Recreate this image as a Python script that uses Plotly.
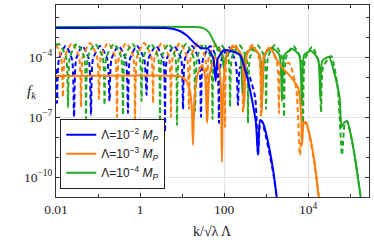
import plotly.graph_objects as go

# ---- data: log10(k/sqrt(lambda)Lambda) and log10(f_k) ----
blue_solid_lk = [-2.0, 0.6, 0.8, 0.95, 1.1, 1.2, 1.32, 1.45, 1.62, 1.75, 1.8, 1.85, 2.0, 2.15, 2.3, 2.38, 2.55, 2.69, 2.76, 2.81, 2.86, 2.93, 3.0, 3.1, 3.18, 3.28]
blue_solid_lf = [-2.55, -2.55, -2.6, -2.7, -2.9, -3.1, -3.35, -3.55, -3.6, -4.1, -5.2, -4.1, -3.65, -3.7, -3.8, -3.9, -5.0, -6.4, -7.3, -8.9, -7.15, -7.3, -7.8, -8.8, -9.8, -11.4]

blue_dash_lk = [-2.0, -1.976, -1.93, -1.77, -1.62, -1.571, -1.52, -1.37, -1.22, -1.167, -1.12, -0.95, -0.78, -0.726, -0.68, -0.51, -0.34, -0.286, -0.24, -0.07, 0.10, 0.155, 0.2, 0.38, 0.55, 0.595, 0.64, 0.81, 0.98, 1.024, 1.07, 1.24, 1.40, 1.452, 1.5, 1.67, 1.83, 1.881, 1.93, 2.11, 2.28, 2.333, 2.39, 2.57, 2.74, 2.81, 2.86, 2.9, 3.0, 3.1, 3.18, 3.28]
blue_dash_lf = [-4.6, -6.3, -4.1, -3.45, -4.1, -7.0, -4.1, -3.45, -4.1, -6.9, -4.1, -3.45, -4.1, -6.2, -4.1, -3.45, -4.1, -6.8, -4.1, -3.45, -4.1, -5.9, -4.1, -3.45, -4.1, -7.75, -4.1, -3.45, -4.1, -6.6, -4.1, -3.45, -4.1, -7.0, -4.1, -3.45, -4.1, -7.3, -4.2, -3.5, -4.3, -6.4, -4.5, -4.8, -6.0, -8.9, -7.3, -7.2, -8.0, -9.0, -9.9, -11.4]

orange_solid_lk = [-2.0, 0.9, 1.0, 1.1, 1.18, 1.23, 1.26, 1.3, 1.38, 1.48, 1.55, 1.6, 1.65, 1.78, 1.88, 1.92, 1.95, 1.99, 2.1, 2.26, 2.42, 2.48, 2.54, 2.67, 2.84, 2.9, 2.96, 3.1, 3.25, 3.37, 3.55, 3.76, 3.83, 3.86, 3.9, 3.95, 4.05, 4.15, 4.28]
orange_solid_lf = [-4.95, -4.95, -5.0, -5.2, -5.6, -6.4, -8.4, -6.0, -4.8, -4.4, -5.0, -7.3, -5.0, -4.0, -4.4, -5.3, -9.25, -5.2, -3.7, -3.5, -3.9, -6.5, -3.9, -3.5, -3.9, -6.8, -3.9, -3.55, -4.1, -4.5, -4.9, -5.5, -6.6, -8.4, -7.3, -7.25, -8.0, -9.2, -11.4]

orange_dash_lk = [-2.0, -1.88, -1.833, -1.79, -1.62, -1.45, -1.405, -1.36, -1.19, -1.02, -0.976, -0.93, -0.76, -0.59, -0.548, -0.50, -0.33, -0.16, -0.119, -0.07, 0.10, 0.27, 0.31, 0.35, 0.52, 0.69, 0.738, 0.78, 0.95, 1.12, 1.167, 1.21, 1.38, 1.55, 1.595, 1.64, 1.81, 1.98, 2.024, 2.07, 2.24, 2.41, 2.452, 2.5, 2.67, 2.84, 2.881, 2.93, 3.1, 3.27, 3.31, 3.36, 3.55, 3.72, 3.81, 3.88, 3.95, 4.05, 4.15, 4.28]
orange_dash_lf = [-3.35, -4.0, -6.0, -4.0, -3.3, -4.0, -6.5, -4.0, -3.3, -4.0, -6.1, -4.0, -3.3, -4.0, -7.0, -4.0, -3.3, -4.0, -7.1, -4.0, -3.3, -4.0, -6.3, -4.0, -3.3, -4.0, -7.0, -4.0, -3.3, -4.0, -6.6, -4.0, -3.3, -4.0, -7.2, -4.0, -3.35, -4.0, -7.5, -4.0, -3.35, -4.0, -6.8, -4.0, -3.4, -4.1, -7.0, -4.1, -3.45, -4.4, -6.8, -4.5, -4.3, -5.6, -8.9, -7.4, -7.3, -8.1, -9.3, -11.4]

green_solid_lk = [-2.0, 1.3, 1.45, 1.55, 1.65, 1.75, 1.85, 1.95, 2.0, 2.05, 2.2, 2.38, 2.44, 2.5, 2.67, 2.85, 2.91, 2.97, 3.14, 3.32, 3.38, 3.44, 3.62, 3.79, 3.85, 3.91, 4.07, 4.24, 4.29, 4.34, 4.5, 4.65, 4.75, 4.8, 4.86, 4.93, 5.03, 5.13, 5.28]
green_solid_lf = [-2.5, -2.5, -2.52, -2.6, -2.8, -3.2, -3.6, -3.85, -4.6, -3.95, -3.65, -3.9, -5.8, -3.9, -3.6, -3.9, -6.0, -3.9, -3.55, -3.9, -6.2, -3.9, -3.6, -3.9, -6.4, -3.9, -3.7, -4.1, -6.0, -4.2, -4.0, -5.0, -6.0, -7.5, -7.3, -7.2, -8.0, -9.2, -11.4]

green_dash_lk = [-2.0, -1.93, -1.76, -1.714, -1.67, -1.5, -1.33, -1.286, -1.24, -1.07, -0.89, -0.845, -0.80, -0.62, -0.45, -0.405, -0.36, -0.18, -0.01, 0.036, 0.08, 0.26, 0.43, 0.476, 0.52, 0.68, 0.84, 0.881, 0.93, 1.1, 1.27, 1.31, 1.36, 1.52, 1.68, 1.726, 1.77, 1.93, 2.1, 2.143, 2.19, 2.36, 2.53, 2.571, 2.62, 2.79, 2.96, 3.0, 3.05, 3.21, 3.38, 3.429, 3.48, 3.65, 3.83, 3.881, 3.93, 4.1, 4.26, 4.31, 4.36, 4.55, 4.7, 4.81, 4.87, 4.93, 5.03, 5.13, 5.28]
green_dash_lf = [-3.4, -3.35, -4.0, -6.5, -4.0, -3.35, -4.0, -7.1, -4.0, -3.35, -4.0, -6.4, -4.0, -3.35, -4.0, -6.9, -4.0, -3.35, -4.0, -6.2, -4.0, -3.35, -4.0, -7.65, -4.0, -3.35, -4.0, -7.4, -4.0, -3.35, -4.0, -6.7, -4.0, -3.35, -4.0, -7.1, -4.0, -3.4, -4.0, -6.5, -4.0, -3.4, -4.0, -7.3, -4.0, -3.4, -4.0, -6.6, -4.0, -3.4, -4.0, -7.0, -4.0, -3.45, -4.1, -7.3, -4.1, -3.5, -4.3, -6.75, -4.5, -3.95, -5.4, -8.9, -7.4, -7.2, -8.0, -9.2, -11.4]

labels = ["Λ=10<sup>−2</sup> <i>M<sub>P</sub></i>",
          "Λ=10<sup>−3</sup> <i>M<sub>P</sub></i>",
          "Λ=10<sup>−4</sup> <i>M<sub>P</sub></i>"]
colors = ["#0000ff", "#ff7f0e", "#22a822"]

x_tickvals = [0.01, 1, 100, 1e4]
x_ticktext = ["0.01", "1", "100", "10<sup>4</sup>"]
x_minor = [0.1, 10, 1000, 1e5]
y_tickvals = [1e-4, 1e-7, 1e-10]
y_ticktext = ["10<sup>−4</sup>", "10<sup>−7</sup>", "10<sup>−10</sup>"]
y_minor = [1e-2, 1e-3, 1e-5, 1e-6, 1e-8, 1e-9, 1e-11]

def p(v):
    return [10 ** a for a in v]

fig = go.Figure()
dashed = [(blue_dash_lk, blue_dash_lf), (orange_dash_lk, orange_dash_lf), (green_dash_lk, green_dash_lf)]
solid = [(blue_solid_lk, blue_solid_lf), (orange_solid_lk, orange_solid_lf), (green_solid_lk, green_solid_lf)]

for (lk, lf), c in zip(dashed, colors):
    fig.add_trace(go.Scatter(x=p(lk), y=p(lf), mode="lines", showlegend=False,
                             line=dict(color=c, width=2, dash="5px,3px", shape="spline", smoothing=0.6)))
for i in [2, 1, 0]:
    lk, lf = solid[i]
    fig.add_trace(go.Scatter(x=p(lk), y=p(lf), mode="lines", name=labels[i], legendrank=i + 1,
                             line=dict(color=colors[i], width=2, shape="spline", smoothing=0.6)))

serif = "Liberation Serif, Times New Roman, serif"
axis_common = dict(showline=True, linecolor="#333", linewidth=1.2, mirror="allticks",
                   ticks="inside", ticklen=4, tickcolor="#333",
                   showgrid=True, gridcolor="#e3e3e3", gridwidth=1, zeroline=False,
                   tickfont=dict(family=serif, size=13.5, color="#222"))
fig.update_xaxes(type="log", range=[-2, 5.452], tickmode="array", tickvals=x_tickvals, ticktext=x_ticktext,
                 minor=dict(tickmode="array", tickvals=x_minor, ticks="inside", ticklen=3, tickcolor="#333", showgrid=False),
                 **axis_common)
fig.update_yaxes(type="log", range=[-11, -1.4], tickmode="array", tickvals=y_tickvals, ticktext=y_ticktext,
                 minor=dict(tickmode="array", tickvals=y_minor, ticks="inside", ticklen=3, tickcolor="#333", showgrid=False),
                 **axis_common)

fig.add_annotation(text="k/√λ Λ", xref="paper", yref="paper", x=0.5, y=-0.182, showarrow=False,
                   font=dict(family=serif, size=14, color="#222"), xanchor="center", yanchor="middle")
fig.add_annotation(text="<i>f<sub>k</sub></i>", xref="paper", yref="paper", x=-0.077, y=0.547, showarrow=False,
                   font=dict(family=serif, size=15, color="#222"), xanchor="center", yanchor="middle")

fig.update_layout(
    width=374, height=242,
    margin=dict(l=56, r=5, t=5, b=45),
    paper_bgcolor="white", plot_bgcolor="white",
    showlegend=True,
    legend=dict(x=0.013, y=0.042, xanchor="left", yanchor="bottom",
                bgcolor="white", bordercolor="#222", borderwidth=1.2,
                font=dict(family="Liberation Sans, Arial, sans-serif", size=12, color="#222"),
                traceorder="normal", itemwidth=30, tracegroupgap=0),
)
fig.write_html("out.html", config={"displayModeBar": False},
               post_script="document.body.style.margin='0';document.body.style.padding='0';")
